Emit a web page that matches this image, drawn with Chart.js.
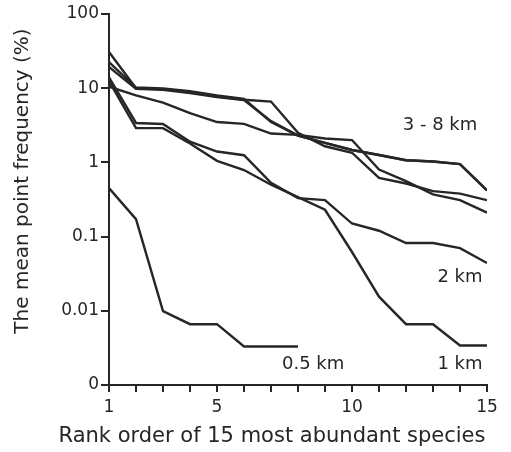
<!DOCTYPE html>
<html>
<head>
<meta charset="utf-8">
<script src="https://cdn.jsdelivr.net/npm/chart.js@4.4.1/dist/chart.umd.min.js"></script>
<style>
	html, body { margin: 0; padding: 0; background: #fff; }
	#wrap { width: 511px; height: 452px; }
</style>
</head>
<body>
<div id="wrap"><canvas id="myChart" width="511" height="452"></canvas></div>
<script>
'use strict';

// *** Data ***
const aryRank = [1, 2, 3, 4, 5, 6, 7, 8, 9, 10, 11, 12, 13, 14, 15];
const aryFar3to8A = [30.7, 10.0, 9.7, 8.9, 7.8, 7.0, 6.6, 2.5, 1.65, 1.35, 0.62, 0.52, 0.41, 0.38, 0.31];
const aryFar3to8B = [22.5, 10.2, 9.9, 9.1, 8.0, 7.2, 3.5, 2.3, 1.83, 1.47, 1.26, 1.07, 1.03, 0.95, 0.42];
const aryFar3to8C = [19.3, 9.8, 9.5, 8.6, 7.6, 6.9, 3.6, 2.3, 1.83, 1.47, 1.26, 1.07, 1.03, 0.95, 0.42];
const aryFar3to8D = [10.5, 8.0, 6.4, 4.6, 3.5, 3.3, 2.45, 2.35, 2.1, 2.0, 0.8, 0.56, 0.37, 0.31, 0.21];
const ary2km = [14.0, 3.4, 3.3, 1.9, 1.4, 1.25, 0.53, 0.33, 0.31, 0.15, 0.12, 0.082, 0.082, 0.07, 0.044];
const ary1km = [12.5, 2.9, 2.9, 1.8, 1.05, 0.79, 0.50, 0.34, 0.23, 0.062, 0.0155, 0.0066, 0.0066, 0.0034, 0.0034];
const ary05km = [0.45, 0.172, 0.0099, 0.0066, 0.0066, 0.0033, 0.0033, 0.0033];

const aryYTicks = [0.001, 0.01, 0.1, 1, 10, 100];
const aryYTickLabels = ['0', '0.01', '0.1', '1', '10', '100'];
const aryXLabelled = [1, 5, 10, 15];

// curve labels: text, rank, frequency
const aryCurveText = ['3 - 8 km', '2 km', '1 km', '0.5 km'];
const aryCurveX = [13.26, 14.0, 14.0, 8.56];
const aryCurveY = [3.2, 0.0286, 0.0019, 0.0019];

const xTitle = 'Rank order of 15 most abundant species';
const yTitle = 'The mean point frequency (%)';

const INK = '#262626';
const FONT = '"DejaVu Sans", sans-serif';

function toPoints(_values) {
	return _values.map((v, i) => ({ x: aryRank[i], y: v }));
}

function prepareDataSets() {
	let aryDataSets = [];
	[aryFar3to8A, aryFar3to8B, aryFar3to8C, aryFar3to8D, ary2km, ary1km, ary05km].forEach((item) => {
		aryDataSets.push({
			data: toPoints(item),
			borderColor: INK,
			borderWidth: 2.4,
			pointRadius: 0,
			tension: 0,
			fill: false,
		});
	});
	return aryDataSets;
}

// draws the axis titles and the distance labels
const textPlugin = {
	id: 'textPlugin',
	afterDraw(chart) {
		const ctx = chart.ctx;
		const xs = chart.scales.x;
		const ys = chart.scales.y;
		ctx.save();
		ctx.fillStyle = INK;
		ctx.textAlign = 'center';
		ctx.textBaseline = 'middle';
		ctx.font = '18px ' + FONT;
		aryCurveText.forEach((t, i) => {
			ctx.fillText(t, xs.getPixelForValue(aryCurveX[i]), ys.getPixelForValue(aryCurveY[i]));
		});

		ctx.font = '21px ' + FONT;
		ctx.fillText(xTitle, 272, 437);

		ctx.translate(23, 181);
		ctx.rotate(-Math.PI / 2);
		ctx.font = '20px ' + FONT;
		ctx.fillText(yTitle, 0, 0);
		ctx.restore();
	},
};

function prepareOptions() {
	let aryOptions = {
		responsive: false,
		animation: false,
		layout: {
			padding: { top: 14, right: 24, bottom: 0, left: 0 },
		},
		plugins: {
			legend: { display: false },
			tooltip: { enabled: false },
		},
		scales: {
			x: {
				type: 'linear',
				min: 1,
				max: 15,
				afterFit: (scale) => { scale.height = 67; },
				ticks: {
					stepSize: 1,
					autoSkip: false,
					maxRotation: 0,
					padding: 5,
					color: INK,
					font: { family: FONT, size: 17 },
					callback: (v) => (aryXLabelled.includes(v) ? String(v) : ''),
				},
				grid: {
					drawOnChartArea: false,
					drawTicks: true,
					tickLength: 7,
					color: INK,
					lineWidth: 2,
				},
				border: { display: true, color: INK, width: 2 },
			},
			y: {
				type: 'logarithmic',
				min: 0.001,
				max: 100,
				afterFit: (scale) => { scale.width = 109; },
				afterBuildTicks: (scale) => {
					scale.ticks = aryYTicks.map((v) => ({ value: v }));
				},
				ticks: {
					padding: 2,
					color: INK,
					font: { family: FONT, size: 17 },
					callback: (v) => {
						const idx = aryYTicks.indexOf(v);
						return idx >= 0 ? aryYTickLabels[idx] : '';
					},
				},
				grid: {
					drawOnChartArea: false,
					drawTicks: true,
					tickLength: 8,
					color: INK,
					lineWidth: 2,
				},
				border: { display: true, color: INK, width: 2 },
			},
		},
	};
	return aryOptions;
}

function chartIt() {
	const config = {
		type: 'line',
		data: {
			datasets: prepareDataSets(),
		},
		options: prepareOptions(),
		plugins: [textPlugin],
	};
	return new Chart(document.getElementById('myChart'), config);
}

// *** Entry Point ***
const myChart = chartIt();
</script>
</body>
</html>
